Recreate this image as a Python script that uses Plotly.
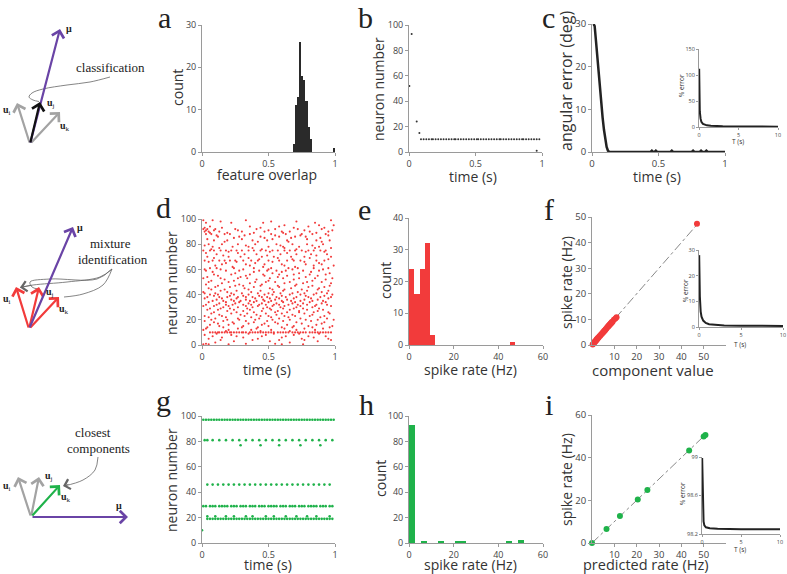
import plotly.graph_objects as go

SANS = "Open Sans"
SERIF = "Liberation Serif"
RED = "#f23b3b"
GREEN = "#1fb24a"
PURPLE = "#6a44a6"
GRAYV = "#a3a3a3"
DARK = "#2a2a2a"
W, H = 787, 574

# ---------------- data ----------------
# a: feature overlap histogram
a_centers = [0.690, 0.706, 0.722, 0.738, 0.754, 0.770, 0.786, 0.802, 0.818, 0.996]
a_counts = [2, 11, 13, 26, 18, 17, 12, 6, 3, 1]

# b: classification raster (neuron 10 fires regularly)
b_times_n10 = [0.09, 0.11, 0.13, 0.15, 0.17, 0.18, 0.20, 0.22, 0.24, 0.26, 0.28, 0.30, 0.32, 0.34,
               0.35, 0.37, 0.39, 0.41, 0.43, 0.45, 0.47, 0.49, 0.51, 0.52, 0.54, 0.56, 0.58, 0.60,
               0.62, 0.64, 0.66, 0.68, 0.69, 0.71, 0.73, 0.75, 0.77, 0.79, 0.81, 0.83, 0.85, 0.86,
               0.88, 0.90, 0.92, 0.94, 0.96, 0.98]
b_other_t = [0.02, 0.058, 0.078, 0.003, 0.96]
b_other_n = [93, 24, 15, 52, 1]

# c: angular error
c_t = [0.012, 0.02, 0.03, 0.04, 0.05, 0.06, 0.07, 0.08, 0.09, 0.10, 0.11, 0.12, 0.13,
       0.44, 0.45, 0.46, 0.47, 0.48, 0.49, 0.59, 0.60, 0.61, 0.75, 0.76, 0.77, 0.81, 0.82, 0.83,
       0.85, 0.86, 0.87, 1.0]
c_err = [30, 29.5, 26, 22, 18, 14.5, 11, 8, 5.2, 3, 1.2, 0.3, 0,
         0, 0.3, 0, 0, 0.3, 0, 0, 0.3, 0, 0, 0.3, 0, 0, 0.3, 0, 0, 0.3, 0, 0]
c_in_T = [0.02, 0.05, 0.1, 0.2, 0.3, 0.5, 0.7, 1.0, 1.5, 2, 3, 5, 7, 10]
c_in_err = [112, 60, 30, 16, 10, 6, 4.5, 3.2, 2.4, 1.9, 1.4, 1.0, 0.8, 0.6]

# d: mixture raster (rows: neuron id -> spike times)
d_rows = [99, 98, 97, 95, 94, 93, 92, 91, 90, 89, 88, 87, 86, 85, 84, 83, 82, 80, 79, 78, 77, 76,
          75, 74, 73, 72, 71, 70, 69, 68, 67, 66, 65, 64, 63, 62, 61, 60, 59, 58, 57, 56, 55, 54,
          53, 52, 51, 50, 49, 48, 47, 46, 45, 44, 43, 42, 41, 40, 39, 38, 37, 36, 35, 34, 33, 32,
          31, 30, 29, 28, 27, 26, 25, 24, 23, 22, 21, 20, 19, 18, 17, 16, 15, 14, 13, 12, 11, 10,
          9, 8, 7, 6, 5, 4, 3, 2, 1, 0.5]
d_times = [
    [0.01, 0.08, 0.33, 0.97],                                   # 99
    [0.14, 0.52, 0.71],                                         # 98
    [0.03, 0.22, 0.46, 0.85],                                   # 97
    [0.62, 0.88, 0.99],                                         # 95
    [0.06, 0.36, 0.58, 0.80],                                   # 94
    [0.02, 0.15, 0.44, 0.69, 0.92],                             # 93
    [0.01, 0.04, 0.10, 0.25, 0.41, 0.55, 0.72, 0.90],           # 92
    [0.03, 0.09, 0.27, 0.50, 0.77, 0.98],                       # 91
    [0.02, 0.05, 0.13, 0.30, 0.47, 0.60, 0.66, 0.81, 0.95],     # 90
    [0.06, 0.19, 0.39, 0.61, 0.86],                             # 89
    [0.03, 0.07, 0.17, 0.21, 0.36, 0.52, 0.63, 0.75, 0.83, 0.93],  # 88
    [0.11, 0.32, 0.55, 0.74, 0.95],                             # 87
    [0.12, 0.28, 0.44, 0.58, 0.70, 0.78],                       # 86
    [0.24, 0.47, 0.67, 0.89],                                   # 85
    [0.04, 0.30, 0.53, 0.79],                                   # 84
    [0.09, 0.19, 0.38, 0.49, 0.64, 0.86, 0.96],                 # 83
    [0.17, 0.42, 0.65, 0.90],                                   # 82
    [0.05, 0.15, 0.27, 0.40, 0.56, 0.68, 0.79, 0.91],           # 80
    [0.02, 0.33, 0.59, 0.83],                                   # 79
    [0.08, 0.23, 0.35, 0.50, 0.61, 0.73, 0.88],                 # 78
    [0.13, 0.38, 0.62, 0.85, 0.97],                             # 77
    [0.07, 0.45, 0.71],                                         # 76
    [0.01, 0.06, 0.09, 0.14, 0.18, 0.22, 0.26, 0.30, 0.35, 0.39, 0.44, 0.48, 0.53, 0.57, 0.62,
     0.66, 0.70, 0.75, 0.80, 0.84, 0.89, 0.93],                 # 75
    [0.20, 0.51, 0.78, 0.92],                                   # 74
    [0.03, 0.27, 0.64],                                         # 73
    [0.11, 0.32, 0.41, 0.59, 0.71, 0.82, 0.94],                 # 72
    [0.16, 0.49, 0.86],                                         # 71
    [0.04, 0.20, 0.29, 0.45, 0.54, 0.67, 0.77, 0.97],           # 70
    [0.09, 0.35, 0.57, 0.81],                                   # 69
    [0.43, 0.68, 0.95],                                         # 68
    [0.02, 0.08, 0.13, 0.17, 0.21, 0.25, 0.31, 0.37, 0.42, 0.50, 0.58, 0.64, 0.69, 0.74, 0.86, 0.92],  # 67
    [0.05, 0.26, 0.53, 0.77],                                   # 66
    [0.18, 0.40, 0.88],                                         # 65
    [0.15, 0.33, 0.47, 0.60, 0.78, 0.90],                       # 64
    [0.10, 0.36, 0.62, 0.84, 0.99],                             # 63
    [0.23, 0.46, 0.70],                                         # 62
    [0.06, 0.11, 0.24, 0.39, 0.52, 0.65, 0.72, 0.84, 0.95],     # 61
    [0.02, 0.14, 0.31, 0.50, 0.68, 0.91],                       # 60
    [0.03, 0.18, 0.28, 0.43, 0.49, 0.56, 0.63, 0.76, 0.88],     # 59
    [0.08, 0.39, 0.60, 0.82],                                   # 58
    [0.25, 0.53, 0.73, 0.96],                                   # 57
    [0.09, 0.22, 0.36, 0.46, 0.58, 0.69, 0.81, 0.93],           # 56
    [0.12, 0.33, 0.47, 0.64, 0.87],                             # 55
    [0.04, 0.29, 0.57, 0.78],                                   # 54
    [0.01, 0.14, 0.27, 0.34, 0.51, 0.61, 0.73, 0.85, 0.98],     # 53
    [0.17, 0.41, 0.69, 0.93],                                   # 52
    [0.07, 0.24, 0.50, 0.83],                                   # 51
    [0.05, 0.20, 0.40, 0.48, 0.55, 0.66, 0.79, 0.90],           # 50
    [0.15, 0.36, 0.62, 0.76, 0.97],                             # 49
    [0.03, 0.28, 0.45, 0.71],                                   # 48
    [0.12, 0.25, 0.31, 0.44, 0.57, 0.70, 0.83, 0.96],           # 47
    [0.10, 0.21, 0.39, 0.58, 0.80, 0.92],                       # 46
    [0.05, 0.32, 0.51, 0.67, 0.88],                             # 45
    [0.07, 0.17, 0.35, 0.53, 0.62, 0.75, 0.87],                 # 44
    [0.14, 0.26, 0.44, 0.61, 0.79, 0.95],                       # 43
    [0.01, 0.19, 0.37, 0.54, 0.72, 0.90],                       # 42
    [0.02, 0.10, 0.22, 0.30, 0.42, 0.50, 0.59, 0.68, 0.77, 0.86, 0.94],  # 41
    [0.06, 0.12, 0.24, 0.35, 0.47, 0.53, 0.66, 0.74, 0.84, 0.98],  # 40
    [0.09, 0.21, 0.31, 0.43, 0.60, 0.78, 0.92],                 # 39
    [0.04, 0.13, 0.19, 0.27, 0.33, 0.38, 0.45, 0.49, 0.56, 0.63, 0.71, 0.80, 0.89, 0.97],  # 38
    [0.02, 0.15, 0.26, 0.40, 0.51, 0.58, 0.69, 0.82, 0.95],     # 37
    [0.11, 0.22, 0.33, 0.46, 0.55, 0.64, 0.77, 0.87],           # 36
    [0.08, 0.16, 0.24, 0.29, 0.36, 0.41, 0.47, 0.52, 0.60, 0.67, 0.74, 0.83, 0.91],  # 35
    [0.05, 0.18, 0.28, 0.39, 0.50, 0.61, 0.70, 0.81, 0.93],     # 34
    [0.13, 0.25, 0.35, 0.45, 0.56, 0.68, 0.76, 0.90],           # 33
    [0.03, 0.11, 0.18, 0.23, 0.31, 0.37, 0.43, 0.48, 0.54, 0.58, 0.65, 0.72, 0.79, 0.86, 0.94],  # 32
    [0.01, 0.09, 0.20, 0.33, 0.42, 0.53, 0.62, 0.74, 0.85, 0.97],  # 31
    [0.16, 0.27, 0.38, 0.49, 0.59, 0.71, 0.83],                 # 30
    [0.06, 0.14, 0.21, 0.34, 0.46, 0.51, 0.61, 0.69, 0.76, 0.88],  # 29
    [0.04, 0.12, 0.24, 0.36, 0.52, 0.66, 0.79, 0.91],           # 28
    [0.19, 0.31, 0.45, 0.57, 0.73, 0.87],                       # 27
    [0.09, 0.26, 0.39, 0.55, 0.64, 0.73, 0.84, 0.95],           # 26
    [0.07, 0.22, 0.34, 0.48, 0.60, 0.77, 0.96],                 # 25
    [0.13, 0.29, 0.41, 0.56, 0.68, 0.83],                       # 24
    [0.02, 0.15, 0.32, 0.44, 0.50, 0.62, 0.70, 0.81, 0.92],     # 23
    [0.05, 0.18, 0.37, 0.52, 0.65, 0.89],                       # 22
    [0.10, 0.27, 0.43, 0.58, 0.74, 0.94],                       # 21
    [0.07, 0.19, 0.28, 0.40, 0.53, 0.66, 0.78, 0.87, 0.99],     # 20
    [0.02, 0.16, 0.33, 0.49, 0.61, 0.82],                       # 19
    [0.09, 0.23, 0.39, 0.55, 0.71, 0.92],                       # 18
    [0.12, 0.24, 0.35, 0.47, 0.57, 0.75, 0.90],                 # 17
    [0.06, 0.20, 0.45, 0.64, 0.86],                             # 16
    [0.13, 0.31, 0.50, 0.69, 0.80, 0.98],                       # 15
    [0.04, 0.16, 0.30, 0.42, 0.60, 0.68, 0.83, 0.96],           # 14
    [0.03, 0.27, 0.41, 0.62, 0.77, 0.91],                       # 13
    [0.01, 0.20, 0.37, 0.52, 0.71, 0.85],                       # 12
    [0.18, 0.44, 0.66],                                         # 11
    [0.06, 0.08, 0.10, 0.12, 0.13, 0.15, 0.17, 0.19, 0.21, 0.22, 0.24, 0.26, 0.28, 0.30, 0.31,
     0.33, 0.36, 0.38, 0.40, 0.42, 0.44, 0.46, 0.48, 0.50, 0.52, 0.54, 0.57, 0.59, 0.61, 0.63,
     0.65, 0.68, 0.70, 0.72, 0.74, 0.76, 0.78, 0.81, 0.83, 0.85, 0.87, 0.89, 0.91, 0.93, 0.95, 0.97],  # 10
    [0.11, 0.35, 0.54, 0.73, 0.88],                             # 9
    [0.02, 0.22, 0.48, 0.69],                                   # 8
    [0.08, 0.26, 0.45, 0.63, 0.80, 0.93],                       # 7
    [0.15, 0.31, 0.60, 0.84],                                   # 6
    [0.05, 0.42, 0.75, 0.95],                                   # 5
    [0.14, 0.38, 0.58, 0.77, 0.97],                             # 4
    [0.24, 0.51, 0.87],                                         # 3
    [0.10, 0.66],                                               # 2
    [0.03, 0.33, 0.55],                                         # 1
    [0.01, 0.05, 0.20, 0.60, 0.76],                             # 0.5
]

# e: spike rate histogram
e_centers = [1.18, 3.55, 5.92, 8.29, 10.66, 46.2]
e_counts = [24, 16, 24, 32, 3, 1]

# f: component value vs spike rate
f_comp = [0.3, 0.6, 0.9, 1.1, 1.4, 1.6, 1.9, 2.1, 2.3, 2.6, 2.9, 3.3, 3.7, 4.1, 4.5, 4.9, 5.2, 5.5,
          5.8, 6.1, 6.4, 6.8, 7.2, 7.4, 7.7, 7.9, 8.2, 8.4, 8.7, 8.9, 9.2, 9.8, 10.5, 11.0, 47.0]
f_rate = [0.2, 0.5, 0.8, 1.2, 1.3, 1.7, 1.8, 2.2, 2.2, 2.7, 2.8, 3.4, 3.6, 4.2, 4.4, 5.0, 5.1, 5.6,
          5.7, 6.2, 6.3, 6.9, 7.1, 7.5, 7.6, 8.0, 8.1, 8.5, 8.6, 9.0, 9.1, 9.9, 10.4, 10.8, 47.4]
f_line = [0, 47.2]
f_in_T = [0.02, 0.05, 0.1, 0.2, 0.3, 0.5, 0.8, 1.2, 2, 3, 5, 7.5, 10]
f_in_err = [28, 20, 12, 6, 4, 2.5, 1.6, 1.1, 0.8, 0.6, 0.5, 0.45, 0.4]

# g: closest-components raster
g_rows = [97, 81, 77, 46, 29, 21, 19, 10]
g_times = [
    [0.01, 0.03, 0.05, 0.07, 0.09, 0.11, 0.13, 0.15, 0.17, 0.19, 0.21, 0.23, 0.25, 0.27, 0.29,
     0.31, 0.33, 0.35, 0.37, 0.39, 0.41, 0.43, 0.45, 0.47, 0.49, 0.51, 0.53, 0.55, 0.57, 0.59,
     0.61, 0.63, 0.65, 0.67, 0.69, 0.71, 0.73, 0.75, 0.77, 0.79, 0.81, 0.83, 0.85, 0.87, 0.89,
     0.91, 0.93, 0.95, 0.97, 0.99],
    [0.02, 0.04, 0.08, 0.13, 0.18, 0.23, 0.28, 0.33, 0.38, 0.43, 0.48, 0.53, 0.58, 0.63, 0.68,
     0.73, 0.78, 0.83, 0.88, 0.93, 0.98],
    [0.29, 0.44, 0.58, 0.74, 0.89],
    [0.04, 0.08, 0.12, 0.16, 0.20, 0.24, 0.28, 0.32, 0.36, 0.40, 0.44, 0.48, 0.52, 0.56, 0.60,
     0.64, 0.68, 0.72, 0.76, 0.80, 0.84, 0.88, 0.92, 0.96],
    [0.01, 0.03, 0.06, 0.08, 0.10, 0.13, 0.15, 0.17, 0.19, 0.22, 0.24, 0.26, 0.29, 0.31, 0.33,
     0.36, 0.38, 0.40, 0.43, 0.45, 0.47, 0.50, 0.52, 0.54, 0.56, 0.59, 0.61, 0.63, 0.66, 0.68,
     0.70, 0.73, 0.75, 0.77, 0.80, 0.82, 0.84, 0.86, 0.89, 0.91, 0.93, 0.96, 0.98],
    [0.04, 0.10, 0.18, 0.24, 0.33, 0.38, 0.48, 0.54, 0.63, 0.71, 0.79, 0.86, 0.96],
    [0.04, 0.06, 0.08, 0.10, 0.12, 0.14, 0.16, 0.18, 0.20, 0.22, 0.24, 0.26, 0.28, 0.30, 0.32,
     0.34, 0.36, 0.38, 0.40, 0.42, 0.44, 0.46, 0.48, 0.50, 0.52, 0.54, 0.56, 0.58, 0.60, 0.62,
     0.64, 0.66, 0.68, 0.70, 0.72, 0.74, 0.76, 0.78, 0.80, 0.82, 0.84, 0.86, 0.88, 0.90, 0.92,
     0.94, 0.96, 0.98],
    [0.0],
]

# h: spike rate histogram
h_centers = [1.3, 6.6, 14.3, 21.8, 24.4, 44.7, 50.0]
h_counts = [93, 1, 1, 1, 1, 1, 2]

# i: predicted vs observed rate
i_pred = [0.0, 6.5, 12.5, 20.5, 24.8, 43.5, 50.0, 50.8]
i_rate = [0.0, 6.6, 12.7, 20.4, 24.9, 43.4, 49.9, 50.6]
i_line = [0, 51]
i_in_T = [0.02, 0.05, 0.1, 0.15, 0.2, 0.3, 0.5, 1, 2, 5, 10]
i_in_err = [98.99, 98.82, 98.55, 98.40, 98.33, 98.29, 98.27, 98.26, 98.255, 98.25, 98.25]

# schematic vectors (pixel coordinates of a full-page helper axis)
v1_origin = (30, 144)
v1_tips = {"mu": (60, 29), "ui": (17, 103), "uj": (40, 102), "uk": (60, 112)}
v2_origin = (29, 329)
v2_tips = {"mu": (73, 227), "ui": (16, 287), "uj": (39, 287), "uk": (59, 297)}
v3_origin = (31, 517)
v3_tips = {"mu": (128, 517), "ui": (18, 477), "uj": (39, 477), "uk": (60, 485)}

# ---------------- figure ----------------
fig = go.Figure()


def dom_x(l, r):
    return [l / W, r / W]


def dom_y(t, b):
    return [1 - b / H, 1 - t / H]


def axis(domain, rng, tickvals, anchor, fs=9, ticktext=None, ticklen=3, color="#444"):
    d = dict(domain=domain, range=rng, tickvals=tickvals, anchor=anchor, showline=True,
             linecolor="#9a9a9a", linewidth=1, ticks="outside", ticklen=ticklen, tickwidth=1,
             tickcolor="#9a9a9a", tickfont=dict(size=fs, color=color, family=SANS),
             showgrid=False, zeroline=False, automargin=False, fixedrange=True)
    if ticktext is not None:
        d["ticktext"] = ticktext
    return d


T01 = ["0", "0.5", "1"]
lay = {}
lay["xaxis"] = axis(dom_x(202, 335), [0, 1], [0, 0.5, 1], "y", ticktext=T01)
lay["yaxis"] = axis(dom_y(25, 152), [0, 30], [0, 10, 20, 30], "x")
lay["xaxis2"] = axis(dom_x(409, 542), [0, 1], [0, 0.5, 1], "y2", ticktext=T01)
lay["yaxis2"] = axis(dom_y(25, 152), [0, 100], [0, 20, 40, 60, 80, 100], "x2")
lay["xaxis3"] = axis(dom_x(592, 725), [0, 1], [0, 0.5, 1], "y3", ticktext=T01, fs=9.5)
lay["yaxis3"] = axis(dom_y(24, 152), [0, 30], [0, 10, 20, 30], "x3", fs=9.5)
lay["xaxis4"] = axis(dom_x(699, 778), [0, 10], [0, 5, 10], "y4", fs=5.5, ticklen=2)
lay["yaxis4"] = axis(dom_y(49, 127), [0, 150], [0, 50, 100, 150], "x4", fs=5.5, ticklen=2)
lay["xaxis5"] = axis(dom_x(202, 335), [0, 1], [0, 0.5, 1], "y5", ticktext=T01)
lay["yaxis5"] = axis(dom_y(219, 345), [0, 100], [0, 20, 40, 60, 80, 100], "x5")
lay["xaxis6"] = axis(dom_x(409, 543), [0, 60], [0, 20, 40, 60], "y6")
lay["yaxis6"] = axis(dom_y(218, 345), [0, 40], [0, 10, 20, 30, 40], "x6")
lay["xaxis7"] = axis(dom_x(592, 726), [0, 60], [10, 20, 30, 40, 50], "y7", fs=9.5)
lay["yaxis7"] = axis(dom_y(217, 345), [0, 50], [0, 10, 20, 30, 40, 50], "x7", fs=9.5)
lay["xaxis8"] = axis(dom_x(699, 783), [0, 10], [0, 5, 10], "y8", fs=5.5, ticklen=2)
lay["yaxis8"] = axis(dom_y(250, 327), [0, 30], [0, 10, 20, 30], "x8", fs=5.5, ticklen=2)
lay["xaxis9"] = axis(dom_x(202, 335), [0, 1], [0, 0.5, 1], "y9", ticktext=T01)
lay["yaxis9"] = axis(dom_y(416, 543), [0, 100], [0, 20, 40, 60, 80, 100], "x9")
lay["xaxis10"] = axis(dom_x(409, 543), [0, 60], [0, 20, 40, 60], "y10")
lay["yaxis10"] = axis(dom_y(416, 543), [0, 100], [0, 20, 40, 60, 80, 100], "x10")
lay["xaxis11"] = axis(dom_x(592, 726), [0, 60], [10, 20, 30, 40, 50], "y11", fs=9.5)
lay["yaxis11"] = axis(dom_y(415, 543), [0, 60], [0, 20, 40, 60], "x11", fs=9.5)
lay["xaxis12"] = axis(dom_x(702, 780), [0, 10], [0, 5, 10], "y12", fs=5.5, ticklen=2)
lay["yaxis12"] = axis(dom_y(457, 534), [98.2, 99], [98.2, 98.6, 99], "x12", fs=5.5, ticklen=2,
                      ticktext=["98.2", "98.6", "99"])
lay["xaxis13"] = dict(domain=[0, 1], range=[0, W], visible=False, anchor="y13", fixedrange=True)
lay["yaxis13"] = dict(domain=[0, 1], range=[H, 0], visible=False, anchor="x13", fixedrange=True)

# ---- traces ----
fig.add_trace(go.Bar(x=a_centers, y=a_counts, width=0.016, marker=dict(color=DARK, line=dict(width=0)),
                     xaxis="x", yaxis="y"))

fig.add_trace(go.Scatter(x=b_times_n10 + b_other_t, y=[10] * len(b_times_n10) + b_other_n, mode="markers",
                         marker=dict(size=2, color="#333"), xaxis="x2", yaxis="y2"))

fig.add_trace(go.Scatter(x=c_t, y=c_err, mode="lines", line=dict(color="#222", width=2.5),
                         xaxis="x3", yaxis="y3", cliponaxis=False))
fig.add_trace(go.Scatter(x=c_in_T, y=c_in_err, mode="lines", line=dict(color="#222", width=2),
                         xaxis="x4", yaxis="y4"))

dx, dy = [], []
for n, ts in zip(d_rows, d_times):
    dx += ts
    dy += [n] * len(ts)
fig.add_trace(go.Scatter(x=dx, y=dy, mode="markers", marker=dict(size=2.1, color=RED),
                         xaxis="x5", yaxis="y5"))

fig.add_trace(go.Bar(x=e_centers, y=e_counts, width=2.37, marker=dict(color=RED, line=dict(width=0)),
                     xaxis="x6", yaxis="y6"))

fig.add_trace(go.Scatter(x=f_line, y=f_line, mode="lines", line=dict(color="#888", width=1, dash="dashdot"),
                         xaxis="x7", yaxis="y7"))
fig.add_trace(go.Scatter(x=f_comp, y=f_rate, mode="markers", marker=dict(size=6, color=RED),
                         xaxis="x7", yaxis="y7", cliponaxis=False))
fig.add_trace(go.Scatter(x=f_in_T, y=f_in_err, mode="lines", line=dict(color="#222", width=2),
                         xaxis="x8", yaxis="y8"))

gx, gy = [], []
for n, ts in zip(g_rows, g_times):
    gx += ts
    gy += [n] * len(ts)
fig.add_trace(go.Scatter(x=gx, y=gy, mode="markers", marker=dict(size=2.6, color=GREEN),
                         xaxis="x9", yaxis="y9"))

fig.add_trace(go.Bar(x=h_centers, y=h_counts, width=2.6, marker=dict(color=GREEN, line=dict(width=0)),
                     xaxis="x10", yaxis="y10"))

fig.add_trace(go.Scatter(x=i_line, y=i_line, mode="lines", line=dict(color="#888", width=1, dash="dashdot"),
                         xaxis="x11", yaxis="y11"))
fig.add_trace(go.Scatter(x=i_pred, y=i_rate, mode="markers", marker=dict(size=6, color=GREEN),
                         xaxis="x11", yaxis="y11", cliponaxis=False))
fig.add_trace(go.Scatter(x=i_in_T, y=i_in_err, mode="lines", line=dict(color="#222", width=2),
                         xaxis="x12", yaxis="y12"))

# schematic curves
curve_pts = [
    ([110, 90, 67, 43, 32, 29, 33, 39], [77, 82, 85, 89, 93, 97, 100, 101.5]),
    ([112, 100, 67, 33, 20], [269, 277, 282, 285, 287.5]),
    ([112, 97, 50, 30, 32, 38], [269, 279, 279, 282, 287, 289]),
    ([112, 103, 83, 64], [269, 285, 294, 297]),
    ([98, 95, 83, 64], [457, 470, 480, 486]),
]
for cx, cy in curve_pts:
    fig.add_trace(go.Scatter(x=cx, y=cy, mode="lines", line=dict(color="#666", width=0.8, shape="spline"),
                             xaxis="x13", yaxis="y13"))

annotations = []


def vec(origin, tip, color, width=2.2):
    annotations.append(dict(x=tip[0], y=tip[1], ax=origin[0], ay=origin[1], xref="x13", yref="y13",
                            axref="x13", ayref="y13", showarrow=True, arrowhead=4, arrowsize=1.1,
                            arrowwidth=width, arrowcolor=color, text=""))


def small_head(p_from, p_to):
    annotations.append(dict(x=p_to[0], y=p_to[1], ax=p_from[0], ay=p_from[1], xref="x13", yref="y13",
                            axref="x13", ayref="y13", showarrow=True, arrowhead=4, arrowsize=2.5,
                            arrowwidth=0.8, arrowcolor="#666", text=""))


vec(v1_origin, v1_tips["ui"], GRAYV)
vec(v1_origin, v1_tips["uk"], GRAYV)
vec(v1_origin, v1_tips["mu"], PURPLE)
vec(v1_origin, v1_tips["uj"], "#111")
vec(v2_origin, v2_tips["ui"], RED)
vec(v2_origin, v2_tips["uj"], RED)
vec(v2_origin, v2_tips["uk"], RED)
vec(v2_origin, v2_tips["mu"], PURPLE)
small_head((33, 285), (20, 287.5))
small_head((64, 296), (62.5, 297))
vec(v3_origin, v3_tips["ui"], GRAYV)
vec(v3_origin, v3_tips["uj"], GRAYV)
vec(v3_origin, v3_tips["mu"], PURPLE)
vec(v3_origin, v3_tips["uk"], GREEN)
small_head((70, 484), (63, 486))


def label(x, y, text, size=10, family=SERIF, color="#222", angle=0, pad=1):
    annotations.append(dict(x=x, y=y, xref="x13", yref="y13", text=text, showarrow=False,
                            font=dict(size=size, family=family, color=color), xanchor="center",
                            yanchor="middle", textangle=angle, borderpad=pad))


label(69, 28, "<b>μ</b>")
label(7, 110, "<b>u</b><sub>i</sub>")
label(51, 103, "<b>u</b><sub>j</sub>")
label(65, 126, "<b>u</b><sub>k</sub>")
label(110, 67, "classification", size=13)

label(80, 227, "<b>μ</b>")
label(7, 299, "<b>u</b><sub>i</sub>")
label(50, 292, "<b>u</b><sub>j</sub>")
label(64, 309, "<b>u</b><sub>k</sub>")
label(110, 243, "mixture", size=13)
label(113, 259, "identification", size=13)

label(119, 505, "<b>μ</b>")
label(7, 486, "<b>u</b><sub>i</sub>")
label(49, 476, "<b>u</b><sub>j</sub>")
label(66, 497, "<b>u</b><sub>k</sub>")
label(93, 432, "closest", size=13)
label(98, 448, "components", size=13)

panel_letters = ["a", "b", "c", "d", "e", "f", "g", "h", "i"]
letter_pos = [(164, 17), (365, 17), (548, 17), (163, 207), (364, 209), (549, 209), (163, 400), (366, 404), (549, 404)]
for t, (x, y) in zip(panel_letters, letter_pos):
    label(x, y, t, size=30, color="#222")

# axis titles (text, x, y, size, angle)
axis_titles = [
    ("count", 177, 88, 14, -90), ("feature overlap", 267, 174, 14, 0),
    ("neuron number", 378, 89, 14, -90), ("time (s)", 473, 176, 14, 0),
    ("angular error (deg)", 566, 81, 16, -90), ("time (s)", 657, 176, 14, 0),
    ("% error", 681, 86, 6.5, -90), ("T (s)", 738, 141, 6.5, 0),
    ("neuron number", 171, 283, 14, -90), ("time (s)", 267, 369, 14, 0),
    ("count", 385, 281, 14, -90), ("spike rate (Hz)", 470, 369, 14, 0),
    ("spike rate (Hz)", 566, 283, 14, -90), ("component value", 653, 370, 15, 0),
    ("% error", 685, 291, 6.5, -90), ("T (s)", 740, 344, 6.5, 0),
    ("neuron number", 171, 480, 14, -90), ("time (s)", 268, 564, 14, 0),
    ("count", 380, 479, 14, -90), ("spike rate (Hz)", 470, 564, 14, 0),
    ("spike rate (Hz)", 566, 480, 14, -90), ("predicted rate (Hz)", 645, 564, 14.5, 0),
    ("% error", 682, 494, 6.5, -90), ("T (s)", 740, 549, 6.5, 0),
]
for t, x, y, s, ang in axis_titles:
    label(x, y, t, size=s, family=SANS, color="#333", angle=ang, pad=0)

fig.update_layout(**lay)
fig.update_layout(width=W, height=H, margin=dict(l=0, r=0, t=0, b=0), template="none",
                  paper_bgcolor="white", plot_bgcolor="rgba(0,0,0,0)", showlegend=False,
                  annotations=annotations, bargap=0)
fig.write_html("out.html", config={"displayModeBar": False},
               post_script="document.body.style.margin='0';document.body.style.overflow='hidden';")
